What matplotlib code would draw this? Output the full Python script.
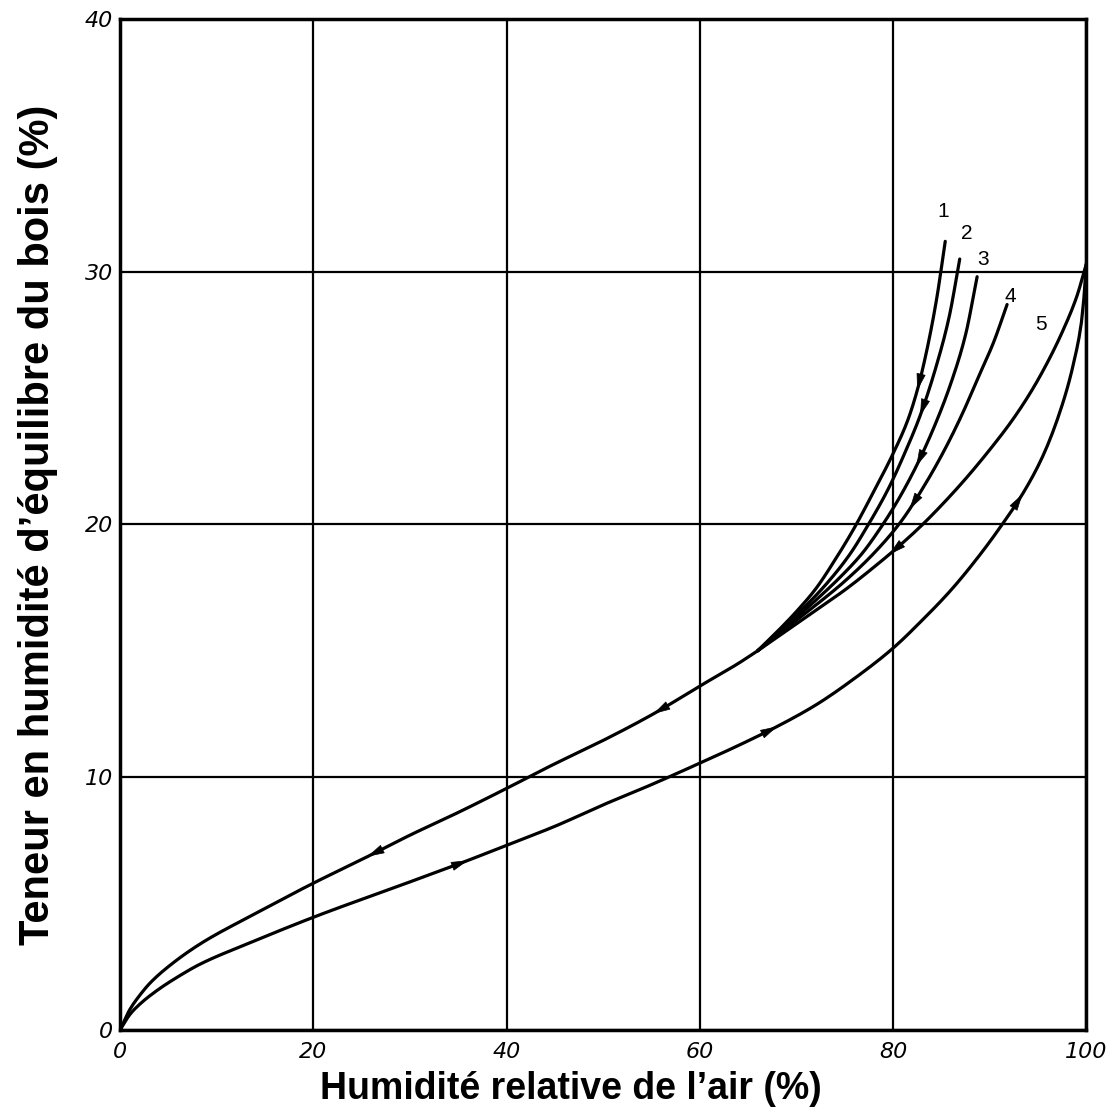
import numpy as np
import matplotlib
matplotlib.use('Agg')
import matplotlib.pyplot as plt

# courbe d'adsorption (montante)
ads_x = [0, 1, 2, 3.8, 6, 8.3, 13.5, 20, 30, 36, 40, 45, 50, 55, 60, 64, 68, 72, 76, 80,
         83, 86, 89, 91.3, 93.4, 95.5, 97.4, 98.7, 99.6, 100]
ads_y = [0, 0.6, 1.0, 1.55, 2.1, 2.6, 3.45, 4.45, 5.85, 6.7, 7.3, 8.05, 8.9, 9.7, 10.55, 11.25, 12.0, 12.85,
         13.9, 15.1, 16.2, 17.4, 18.8, 20.0, 21.2, 22.7, 24.6, 26.4, 28.3, 30.3]

# courbe de désorption principale
des_x = [0, 1, 2, 3.1, 5, 8.3, 13.5, 20, 25.6, 30, 35, 40, 44.6, 50, 55.2, 60, 64, 66]
des_y = [0, 0.8, 1.35, 1.85, 2.5, 3.4, 4.5, 5.8, 6.85, 7.7, 8.6, 9.55, 10.45, 11.45, 12.5, 13.6, 14.5, 15.0]

# branches de désorption 1 à 5
c1_x = [66, 68, 70, 72, 74, 75.9, 78, 80, 81.5, 82.5, 83.5, 84.5, 85.4]
c1_y = [15.0, 15.75, 16.55, 17.45, 18.6, 19.8, 21.3, 22.8, 24.1, 25.3, 26.9, 28.9, 31.2]
c2_x = [66, 68, 70.5, 73, 75.5, 77.3, 79.5, 81.3, 82.8, 84.5, 85.8, 86.9]
c2_y = [15.0, 15.7, 16.6, 17.6, 18.8, 19.9, 21.4, 22.9, 24.3, 26.3, 28.2, 30.5]
c3_x = [66, 68.5, 71, 74.5, 76.8, 78.6, 80.5, 82.4, 84.3, 86, 87.5, 88.7]
c3_y = [15.0, 15.8, 16.65, 17.9, 18.85, 19.8, 20.95, 22.3, 23.9, 25.6, 27.5, 29.8]
c4_x = [66, 69, 72, 75, 78, 80.8, 83.5, 85.4, 87.2, 88.8, 90.4, 91.8]
c4_y = [15.0, 15.9, 16.8, 17.75, 18.85, 20.1, 21.7, 23.0, 24.4, 25.8, 27.2, 28.7]
c5_x = [66, 69, 72, 75, 78, 80.5, 82.8, 85, 87.5, 90, 92.3, 94.2, 95.9, 97.5, 99, 100]
c5_y = [15.0, 15.8, 16.6, 17.4, 18.3, 19.1, 19.9, 20.75, 21.8, 22.95, 24.1, 25.2, 26.35, 27.6, 29.0, 30.3]

branch_labels = ['1', '2', '3', '4', '5']
label_x = [85.2, 87.6, 89.3, 92.1, 95.3]
label_y = [32.4, 31.5, 30.5, 29.0, 27.9]

# positions (x) des flèches sur chaque courbe
ads_arrows = [36, 68, 93.4]
des_arrows = [25.6, 55.2]
branch_arrows = [82.5, 82.8, 82.4, 81.7, 79.6]

fig = plt.figure(figsize=(11.13, 11.18), dpi=100)
ax = fig.add_axes([0.108, 0.079, 0.868, 0.904])


def pchip(xs, ys, n=400):
    # tracé lissé monotone (Fritsch-Carlson) entre les points lus
    x = np.asarray(xs, float)
    y = np.asarray(ys, float)
    h = np.diff(x)
    dl = np.diff(y) / h
    m = np.zeros_like(x)
    for i in range(1, len(x) - 1):
        if dl[i - 1] * dl[i] > 0:
            w1 = 2 * h[i] + h[i - 1]
            w2 = h[i] + 2 * h[i - 1]
            m[i] = (w1 + w2) / (w1 / dl[i - 1] + w2 / dl[i])
    m[0] = dl[0]
    m[-1] = dl[-1]
    xx = np.linspace(x[0], x[-1], n)
    k = np.clip(np.searchsorted(x, xx) - 1, 0, len(x) - 2)
    t = (xx - x[k]) / h[k]
    h00 = 2 * t ** 3 - 3 * t ** 2 + 1
    h10 = t ** 3 - 2 * t ** 2 + t
    h01 = -2 * t ** 3 + 3 * t ** 2
    h11 = t ** 3 - t ** 2
    yy = h00 * y[k] + h10 * h[k] * m[k] + h01 * y[k + 1] + h11 * h[k] * m[k + 1]
    return xx, yy


lw = 2.3
curves = [(ads_x, ads_y), (des_x, des_y), (c1_x, c1_y), (c2_x, c2_y),
          (c3_x, c3_y), (c4_x, c4_y), (c5_x, c5_y)]
smooth = []
for cx, cy in curves:
    sx, sy = pchip(cx, cy)
    smooth.append((sx, sy))
    ax.plot(sx, sy, color='black', lw=lw, solid_capstyle='round')


def arrow(sx, sy, xa, forward):
    # pointe à xa, orientée dans le sens de parcours de la courbe
    d = 1.0 if forward else -1.0
    tip = (xa, np.interp(xa, sx, sy))
    tail = (xa - d, np.interp(xa - d, sx, sy))
    ax.annotate('', xy=tip, xytext=tail,
                arrowprops=dict(arrowstyle='-|>,head_length=1.1,head_width=0.3',
                                color='black', lw=0.5, shrinkA=0, shrinkB=0))


for xa in ads_arrows:
    arrow(*smooth[0], xa, True)
for xa in des_arrows:
    arrow(*smooth[1], xa, False)
for (sx, sy), xa in zip(smooth[2:], branch_arrows):
    arrow(sx, sy, xa, False)

for lab, lx, ly in zip(branch_labels, label_x, label_y):
    ax.text(lx, ly, lab, fontsize=15, family='Liberation Sans', ha='center', va='center')

ax.set_xlim(0, 100)
ax.set_ylim(0, 40)
ax.set_xticks(range(0, 101, 20))
ax.set_yticks(range(0, 41, 10))
ax.grid(True, color='black', lw=1.6)
ax.set_axisbelow(True)
for s in ax.spines.values():
    s.set_linewidth(2.5)
ax.tick_params(length=0, labelsize=16)
ax.tick_params(axis='x', pad=9)
ax.tick_params(axis='y', pad=5)
for t in ax.get_xticklabels() + ax.get_yticklabels():
    t.set_fontstyle('italic')

ax.set_xlabel("Humidité relative de l’air (%)", fontsize=27, fontweight='bold',
              family='Liberation Sans')
ax.set_ylabel("Teneur en humidité d’équilibre du bois (%)", fontsize=30, fontweight='bold',
              family='Liberation Sans')
ax.xaxis.set_label_coords(0.467, -0.041)
ax.yaxis.set_label_coords(-0.064, 0.5)

plt.savefig('out.png', dpi=100)
